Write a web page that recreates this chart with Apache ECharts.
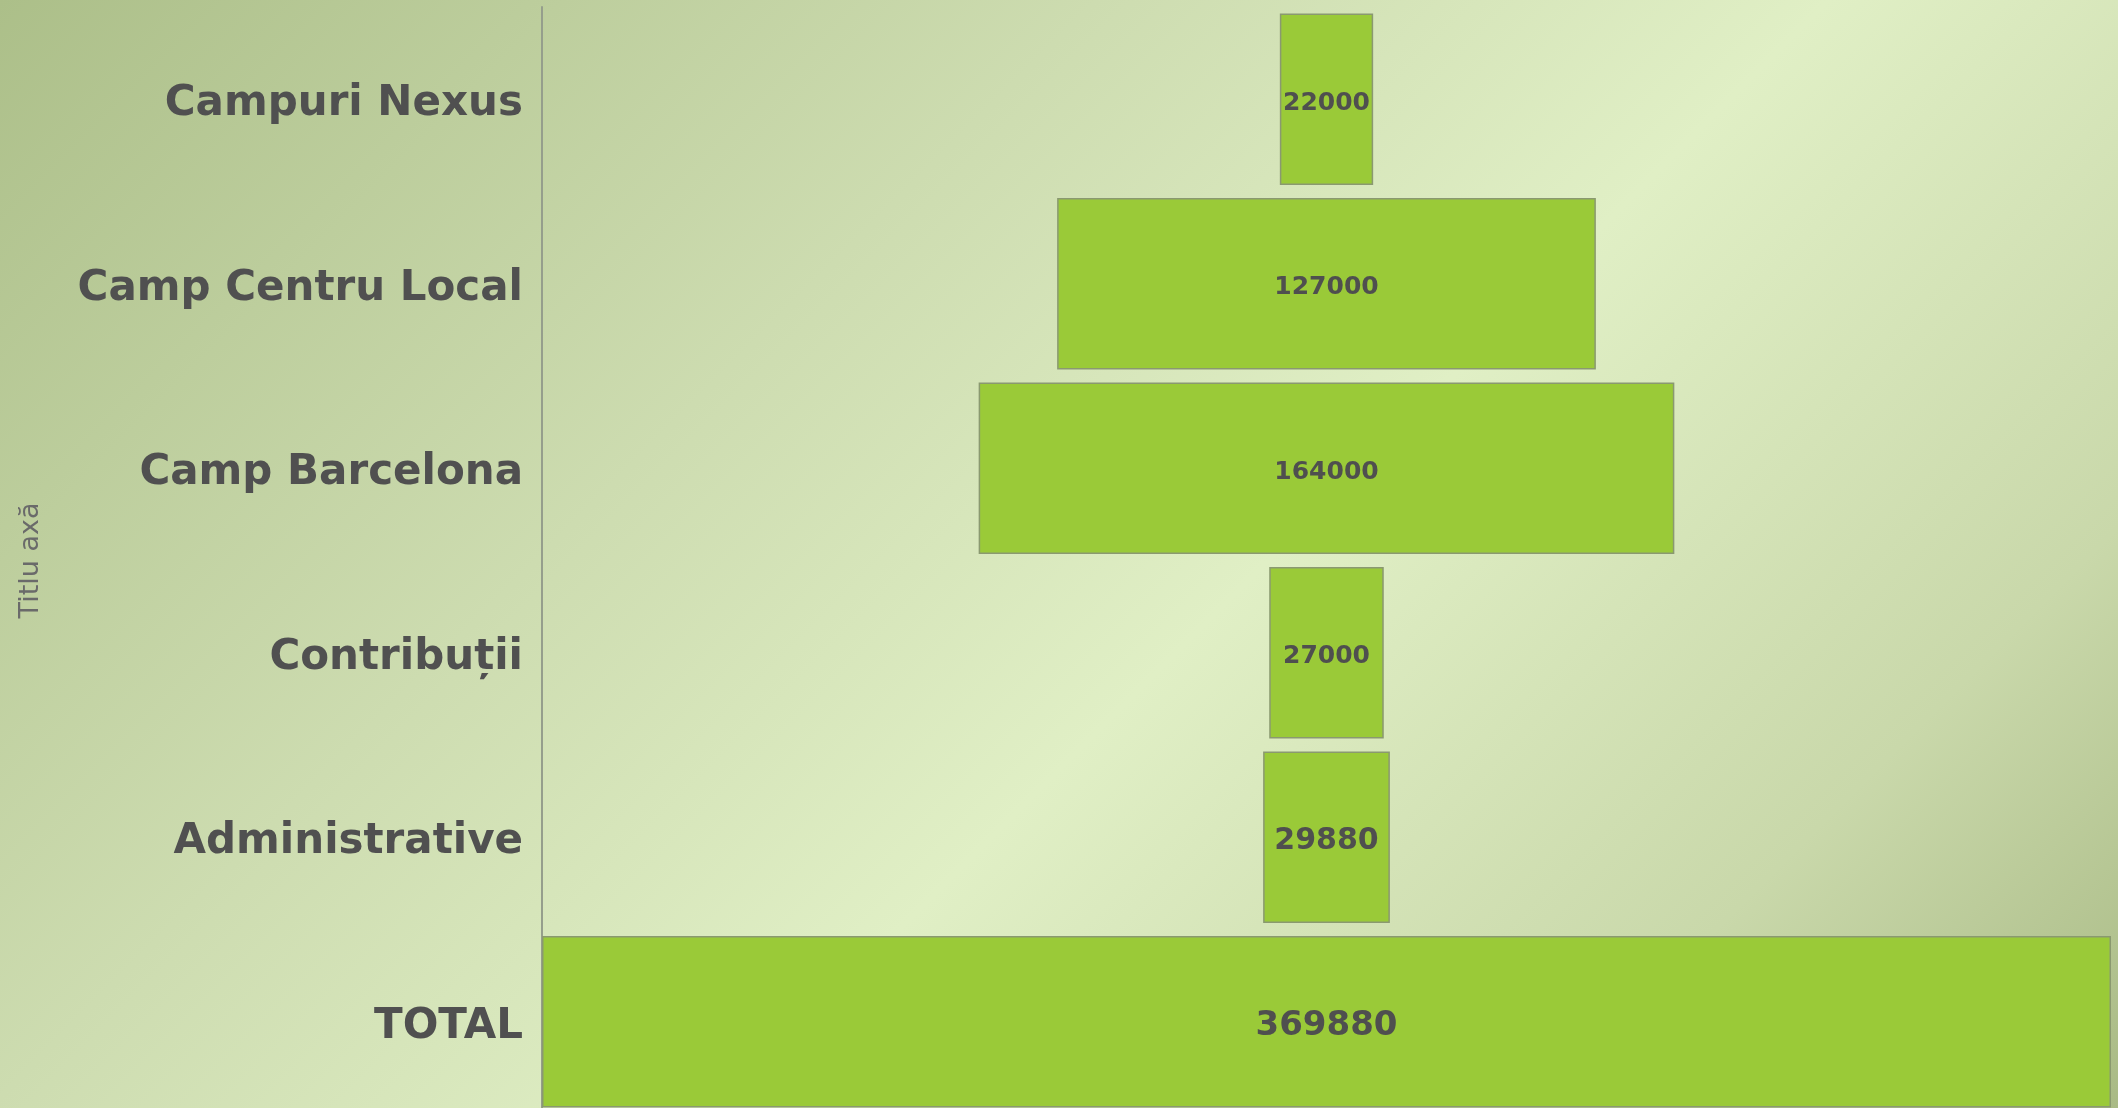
<!DOCTYPE html>
<html><head><meta charset="utf-8">
<script src="https://cdn.jsdelivr.net/npm/echarts@6/dist/echarts.min.js"></script>
<style>html,body{margin:0;padding:0;overflow:hidden;}#c{width:2118px;height:1108px;}</style>
</head><body><div id="c"></div>
<script>
const categories = ['Campuri Nexus', 'Camp Centru Local', 'Camp Barcelona', 'Contribuții', 'Administrative', 'TOTAL'];
const values = [22000, 127000, 164000, 27000, 29880, 369880];
const axisTitle = 'Titlu axă';

const labelSizes = [25, 25, 25, 25, 30, 34];
const maxVal = Math.max(...values);
const offsets = values.map(v => (maxVal - v) / 2);

const chart = echarts.init(document.getElementById('c'));
chart.setOption({
  animation: false,
  backgroundColor: new echarts.graphic.LinearGradient(0, 0, 1613, 1613, [
    { offset: 0, color: '#acbf89' },
    { offset: 0.34, color: '#cddcb0' },
    { offset: 0.567, color: '#e0efc5' },
    { offset: 0.82, color: '#c9d8aa' },
    { offset: 1, color: '#a9ba85' }
  ], true),
  grid: { left: 542, width: 1569, top: 7, height: 1107, containLabel: false, outerBoundsMode: 'none' },
  xAxis: {
    type: 'value', min: 0, max: maxVal,
    show: false
  },
  yAxis: {
    type: 'category',
    inverse: true,
    data: categories,
    axisLine: { show: true, lineStyle: { color: '#959e8c', width: 2 } },
    axisTick: { show: false },
    splitLine: { show: false },
    axisLabel: {
      margin: 19,
      formatter: v => '{c|' + v + '}',
      rich: {
        c: {
          fontFamily: 'DejaVu Sans', fontWeight: 'bold', fontSize: 42,
          color: '#505050', padding: [10, 0, 0, 0]
        }
      }
    },
    name: axisTitle,
    nameLocation: 'middle',
    nameRotate: 90,
    nameGap: 498,
    nameTextStyle: { fontFamily: 'DejaVu Sans', fontSize: 27, color: '#6a6a6a' }
  },
  series: [
    {
      type: 'bar', stack: 'f', silent: true,
      data: offsets,
      itemStyle: { color: 'transparent', borderWidth: 0 },
      barCategoryGap: '7%'
    },
    {
      type: 'bar', stack: 'f',
      data: values.map((v, i) => ({
        value: v,
        label: { fontSize: labelSizes[i] }
      })),
      barCategoryGap: '7%',
      itemStyle: { color: '#9aca38', borderColor: '#8a9970', borderWidth: 1.5 },
      label: {
        show: true, position: 'inside', offset: [0, 4],
        fontFamily: 'DejaVu Sans', fontWeight: 'bold',
        color: '#4f4f4f'
      }
    }
  ]
});
</script>
</body></html>
